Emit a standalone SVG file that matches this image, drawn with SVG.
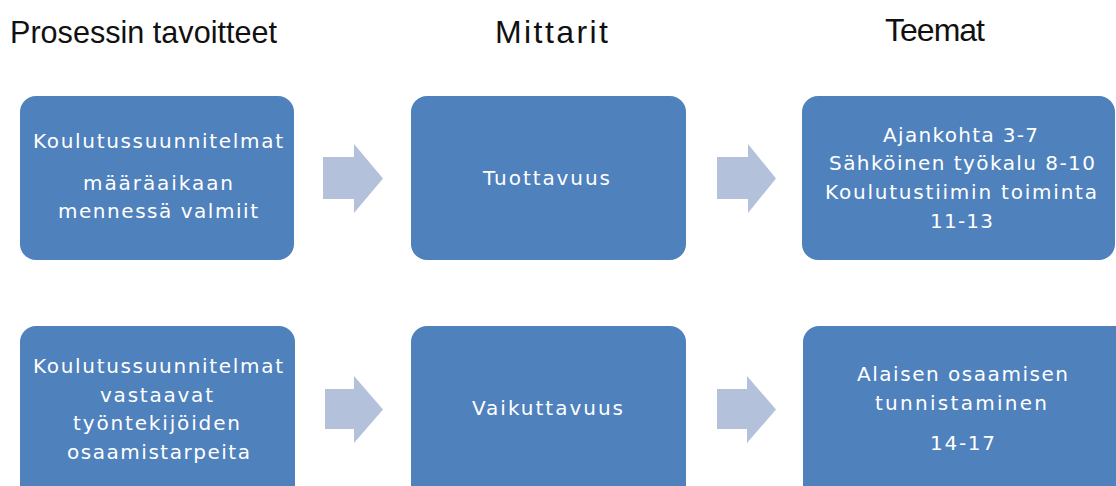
<svg xmlns="http://www.w3.org/2000/svg" width="1116" height="486" viewBox="0 0 1116 486">
<style>
.box{fill:#4F81BD;}
.arrow{fill:#B3C1DB;}
.title{font-family:"Liberation Sans",Arial,sans-serif;font-size:32px;fill:#111;}
.lbl{font-family:"DejaVu Sans",Verdana,sans-serif;font-size:20px;fill:#fff;}
</style>
<rect width="1116" height="486" fill="#fff"/>
<g id="titles">
<text class="title" x="10" y="43" textLength="267" lengthAdjust="spacingAndGlyphs">Prosessin tavoitteet</text>
<text class="title" x="495" y="43" textLength="113" lengthAdjust="spacing">Mittarit</text>
<text class="title" x="885" y="41" textLength="100" lengthAdjust="spacing">Teemat</text>
</g>
<g id="connectors">
<polygon class="arrow" points="323,157 354,157 354,144 383,178.5 354,213 354,199 323,199"/>
<polygon class="arrow" points="717,157 748,157 748,144 776,178.5 748,213 748,199 717,199"/>
<polygon class="arrow" points="325,389 354,389 354,376 383,409.5 354,443 354,429 325,429"/>
<polygon class="arrow" points="717,389 747,389 747,376 776,409.5 747,443 747,429 717,429"/>
</g>
<g id="node-goal1">
<rect class="box" x="20" y="96" width="274" height="164" rx="16"/>
<text class="lbl" x="33" y="148" textLength="250" lengthAdjust="spacing">Koulutussuunnitelmat</text>
<text class="lbl" x="83" y="190" textLength="150" lengthAdjust="spacing">määräaikaan</text>
<text class="lbl" x="58" y="218" textLength="200" lengthAdjust="spacing">mennessä valmiit</text>
</g>
<g id="node-metric1">
<rect class="box" x="411" y="96" width="275" height="164" rx="16"/>
<text class="lbl" x="483" y="185" textLength="127" lengthAdjust="spacing">Tuottavuus</text>
</g>
<g id="node-theme1">
<rect class="box" x="802" y="96" width="313" height="164" rx="16"/>
<text class="lbl" x="883" y="142" textLength="155" lengthAdjust="spacing">Ajankohta 3-7</text>
<text class="lbl" x="829" y="170" textLength="266" lengthAdjust="spacing">Sähköinen työkalu 8-10</text>
<text class="lbl" x="825" y="199" textLength="272" lengthAdjust="spacing">Koulutustiimin toiminta</text>
<text class="lbl" x="930" y="228" textLength="63" lengthAdjust="spacing">11-13</text>
</g>
<g id="node-goal2">
<rect class="box" x="20" y="326" width="275" height="175" rx="16"/>
<text class="lbl" x="33" y="373" textLength="250" lengthAdjust="spacing">Koulutussuunnitelmat</text>
<text class="lbl" x="100" y="402" textLength="113" lengthAdjust="spacing">vastaavat</text>
<text class="lbl" x="73" y="430" textLength="167" lengthAdjust="spacing">työntekijöiden</text>
<text class="lbl" x="67" y="459" textLength="183" lengthAdjust="spacing">osaamistarpeita</text>
</g>
<g id="node-metric2">
<rect class="box" x="411" y="326" width="275" height="175" rx="16"/>
<text class="lbl" x="472" y="415" textLength="151" lengthAdjust="spacing">Vaikuttavuus</text>
</g>
<g id="node-theme2">
<rect class="box" x="803" y="326" width="330" height="175" rx="16"/>
<text class="lbl" x="857" y="381" textLength="211" lengthAdjust="spacing">Alaisen osaamisen</text>
<text class="lbl" x="875" y="410" textLength="172" lengthAdjust="spacing">tunnistaminen</text>
<text class="lbl" x="930" y="450" textLength="65" lengthAdjust="spacing">14-17</text>
</g>
</svg>
